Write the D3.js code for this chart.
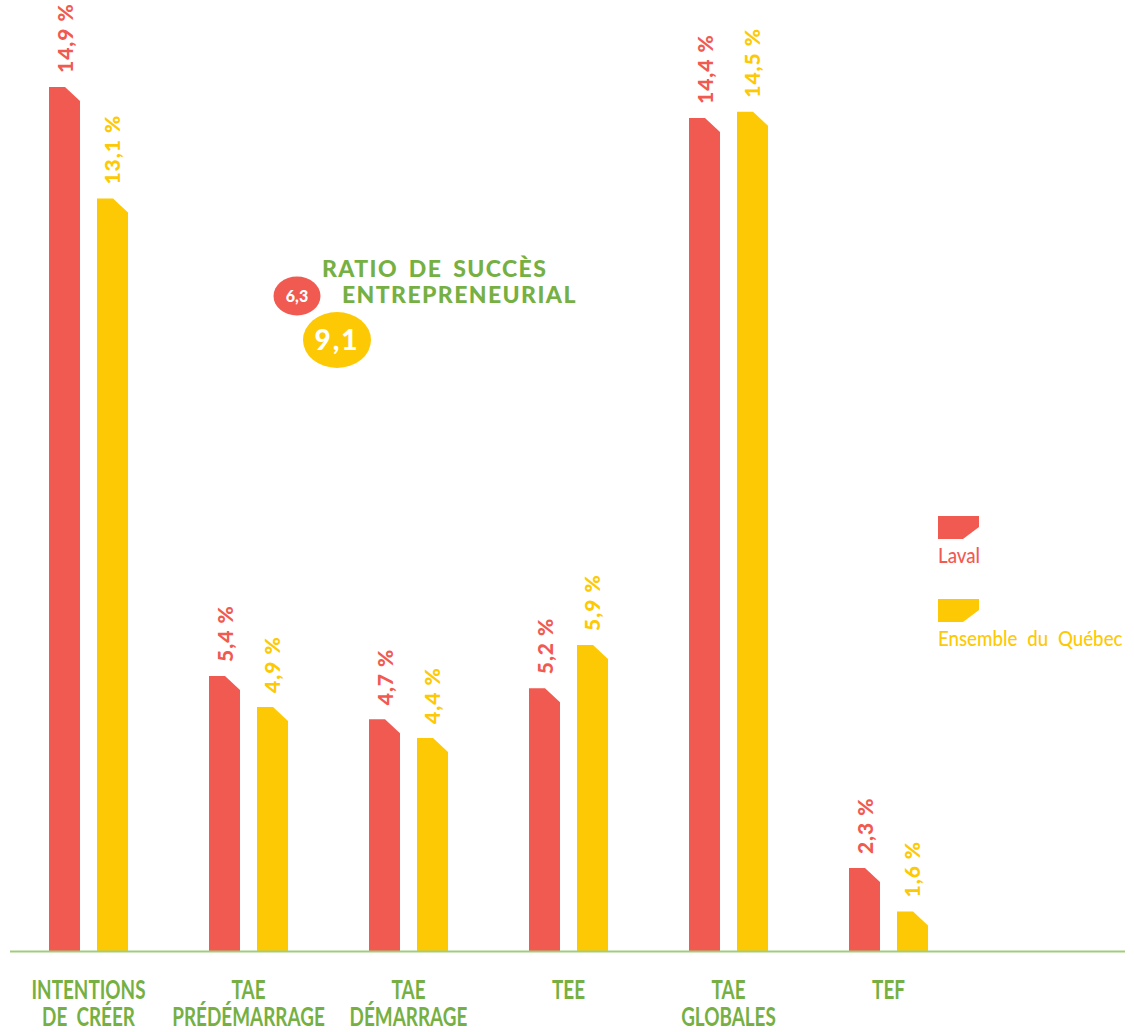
<!DOCTYPE html>
<html>
<head>
<meta charset="utf-8">
<script src="https://cdn.jsdelivr.net/npm/d3@7"></script>
<style>
  body { margin: 0; background: #fff; }
  svg { display: block; }
</style>
</head>
<body>
<div id="chart"></div>
<script>
// données
const categories = ['INTENTIONS\nDE  CRÉER', 'TAE\nPRÉDÉMARRAGE', 'TAE\nDÉMARRAGE', 'TEE', 'TAE\nGLOBALES', 'TEF']
const series = ['Laval', 'Ensemble du Québec']
const lavalValues = [14.9, 5.4, 4.7, 5.2, 14.4, 2.3]
const quebecValues = [13.1, 4.9, 4.4, 5.9, 14.5, 1.6]
const ratioTitle = ['RATIO DE SUCCÈS', 'ENTREPRENEURIAL']
const ratioValues = [6.3, 9.1]

const red = '#f15a50'
const yellow = '#fdc905'
const green = '#76b043'

const width = 1134
const height = 1032
const baseY = 951.5

const svg = d3.select('#chart').append('svg')
  .attr('width', width)
  .attr('height', height)

const x0 = d3.scaleBand()
  .domain(categories)
  .range([49, 49 + 160 * categories.length])

const x1 = d3.scaleBand()
  .domain(series)
  .range([0, 79])
  .paddingInner(0.354)

const y = d3.scaleLinear()
  .domain([0.954, 14.9])
  .range([baseY, 87])

const color = d3.scaleOrdinal().domain(series).range([red, yellow])

const fmt = v => d3.format('.1f')(v).replace('.', ',') + ' %'

const data = categories.map((c, i) => ({
  cat: c,
  values: [
    {s: series[0], v: lavalValues[i]},
    {s: series[1], v: quebecValues[i]}
  ]
}))

// barre avec coin coupé en haut à droite
function barPath (x, w, top, bottom) {
  const cw = 15
  const ch = 14
  return 'M' + x + ',' + bottom +
    'L' + x + ',' + top +
    'L' + (x + w - cw) + ',' + top +
    'L' + (x + w) + ',' + (top + ch) +
    'L' + (x + w) + ',' + bottom + 'Z'
}

const groups = svg.selectAll('.group')
  .data(data)
  .enter()
  .append('g')
  .attr('class', 'group')
  .attr('transform', d => 'translate(' + x0(d.cat) + ',0)')

groups.selectAll('path')
  .data(d => d.values)
  .enter()
  .append('path')
  .attr('d', d => barPath(x1(d.s), x1.bandwidth(), y(d.v), baseY))
  .style('fill', d => color(d.s))

groups.selectAll('.val')
  .data(d => d.values)
  .enter()
  .append('text')
  .attr('class', 'val')
  .attr('transform', d => 'translate(' + (x1(d.s) + x1.bandwidth() / 2 + 8) + ',' + (y(d.v) - 14) + ') rotate(-90)')
  .style('font-family', 'Lato, "Open Sans", sans-serif')
  .style('font-weight', 900)
  .style('font-size', '21px')
  .style('letter-spacing', '1px')
  .style('fill', d => color(d.s))
  .text(d => fmt(d.v))

// ligne de base
svg.append('line')
  .attr('x1', 10)
  .attr('x2', 1125)
  .attr('y1', baseY)
  .attr('y2', baseY)
  .style('stroke', '#9fcd7f')
  .style('stroke-width', 2)

// étiquettes des catégories
const catLabels = svg.selectAll('.cat')
  .data(categories)
  .enter()
  .append('text')
  .attr('class', 'cat')
  .attr('transform', d => 'translate(' + (x0(d) + 39.5) + ',0) scale(0.7,1)')
  .attr('text-anchor', 'middle')
  .style('font-family', 'Lato, sans-serif')
  .style('font-weight', 700)
  .style('font-size', '27px')
  .style('fill', green)
  .style('white-space', 'pre')

catLabels.selectAll('tspan')
  .data(d => d.split('\n'))
  .enter()
  .append('tspan')
  .attr('x', 0)
  .attr('y', (d, i) => 999 + i * 27)
  .text(d => d)

// légende
const legend = svg.selectAll('.legend')
  .data(series)
  .enter()
  .append('g')
  .attr('class', 'legend')
  .attr('transform', (d, i) => 'translate(938,' + (516 + i * 83) + ')')

legend.append('path')
  .attr('d', 'M0,0L41,0L41,11L25,23L0,23Z')
  .style('fill', d => color(d))

legend.append('text')
  .attr('x', 0)
  .attr('y', 47)
  .attr('transform', 'scale(0.85,1)')
  .style('font-family', 'Lato, sans-serif')
  .style('font-weight', 500)
  .style('font-size', '22px')
  .style('word-spacing', '6px')
  .style('fill', d => color(d))
  .text(d => d)

// ratio de succès entrepreneurial
svg.selectAll('.ratioTitle')
  .data(ratioTitle)
  .enter()
  .append('text')
  .attr('class', 'ratioTitle')
  .attr('x', (d, i) => i === 0 ? 322 : 342)
  .attr('y', (d, i) => 277 + i * 26)
  .style('font-family', 'Lato, sans-serif')
  .style('font-weight', 900)
  .style('font-size', '23px')
  .style('letter-spacing', '1.4px')
  .style('word-spacing', '4px')
  .style('fill', green)
  .text(d => d)

const bubbles = [
  {v: ratioValues[0], cx: 297, cy: 296, rx: 23.5, ry: 19.5, fs: 16, c: red},
  {v: ratioValues[1], cx: 337, cy: 340, rx: 34, ry: 28, fs: 28, c: yellow}
]

const bub = svg.selectAll('.bubble')
  .data(bubbles)
  .enter()
  .append('g')
  .attr('class', 'bubble')

bub.append('ellipse')
  .attr('cx', d => d.cx)
  .attr('cy', d => d.cy)
  .attr('rx', d => d.rx)
  .attr('ry', d => d.ry)
  .style('fill', d => d.c)

bub.append('text')
  .attr('x', d => d.cx)
  .attr('y', d => d.cy)
  .attr('dy', '0.36em')
  .attr('text-anchor', 'middle')
  .style('font-family', 'Lato, sans-serif')
  .style('font-weight', 900)
  .style('font-size', d => d.fs + 'px')
  .style('letter-spacing', d => d.fs > 20 ? '2px' : '0px')
  .style('fill', '#fff')
  .text(d => d3.format('.1f')(d.v).replace('.', ','))
</script>
</body>
</html>
